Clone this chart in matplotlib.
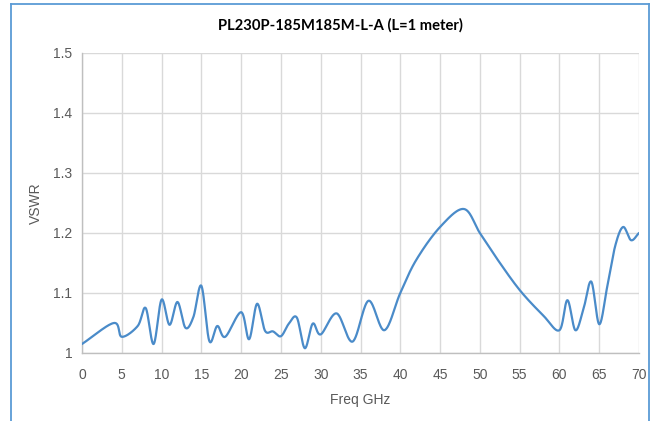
import numpy as np
import matplotlib
matplotlib.use("Agg")
import matplotlib.pyplot as plt
from matplotlib.lines import Line2D

# ---- data ----
freq_ghz = [0, 4, 5, 7, 8, 9, 10, 11, 12, 13, 14, 15, 16, 17, 18, 20, 21, 22, 23, 24,
            25, 26, 27, 28, 29, 30, 32, 34, 36, 38, 40, 42, 45, 48, 50, 52, 55, 58,
            60, 61, 62, 63, 64, 65, 66, 67, 68, 69, 70]
vswr = [1.015, 1.050, 1.027, 1.045, 1.075, 1.015, 1.089, 1.047, 1.085, 1.042, 1.060,
        1.112, 1.020, 1.045, 1.027, 1.068, 1.023, 1.082, 1.037, 1.036, 1.028, 1.049,
        1.059, 1.008, 1.049, 1.031, 1.066, 1.019, 1.087, 1.038, 1.100, 1.155, 1.210,
        1.240, 1.200, 1.160, 1.105, 1.062, 1.038, 1.088, 1.038, 1.072, 1.119, 1.048,
        1.110, 1.178, 1.210, 1.188, 1.200]
x_ticks = [0, 5, 10, 15, 20, 25, 30, 35, 40, 45, 50, 55, 60, 65, 70]
y_ticks = [1.0, 1.1, 1.2, 1.3, 1.4, 1.5]
y_tick_labels = ["1", "1.1", "1.2", "1.3", "1.4", "1.5"]
title = "PL230P-185M185M-L-A (L=1 meter)"
x_label = "Freq GHz"
y_label = "VSWR"


def smooth(x, y, n=30):
    """Catmull-Rom style smoothing (like Excel's smoothed line)."""
    x = np.asarray(x, float)
    y = np.asarray(y, float)
    xs, ys = [], []
    m = len(x)
    for i in range(m - 1):
        p0 = (x[i - 1], y[i - 1]) if i > 0 else (2 * x[0] - x[1], 2 * y[0] - y[1])
        p1 = (x[i], y[i])
        p2 = (x[i + 1], y[i + 1])
        p3 = (x[i + 2], y[i + 2]) if i + 2 < m else (2 * x[-1] - x[-2], 2 * y[-1] - y[-2])
        t = np.linspace(0, 1, n, endpoint=(i == m - 2))
        c1x = p1[0] + (p2[0] - p0[0]) / 6
        c1y = p1[1] + (p2[1] - p0[1]) / 6
        c2x = p2[0] - (p3[0] - p1[0]) / 6
        c2y = p2[1] - (p3[1] - p1[1]) / 6
        bx = (1 - t) ** 3 * p1[0] + 3 * (1 - t) ** 2 * t * c1x + 3 * (1 - t) * t ** 2 * c2x + t ** 3 * p2[0]
        by = (1 - t) ** 3 * p1[1] + 3 * (1 - t) ** 2 * t * c1y + 3 * (1 - t) * t ** 2 * c2y + t ** 3 * p2[1]
        xs.append(bx)
        ys.append(by)
    return np.concatenate(xs), np.concatenate(ys)


W, H = 657, 421
fig = plt.figure(figsize=(W / 100, H / 100), dpi=100)
fig.patch.set_facecolor("white")

ax = fig.add_axes([82 / W, 1 - 353 / H, (639 - 82) / W, (353 - 53) / H])
sx, sy = smooth(freq_ghz, vswr)
ax.plot(sx, sy, color="#4a8bc9", linewidth=1.6, solid_capstyle="round", zorder=3)

ax.set_xlim(0, 70)
ax.set_ylim(1.0, 1.5)
ax.set_xticks(x_ticks)
ax.set_xticklabels([str(t) for t in x_ticks])
ax.set_yticks(y_ticks)
ax.set_yticklabels(y_tick_labels)
ax.tick_params(length=0, labelsize=10, labelcolor="#595959")
ax.tick_params(axis="x", pad=11)
ax.tick_params(axis="y", pad=7)
for lab in ax.get_xticklabels() + ax.get_yticklabels():
    lab.set_family(["Liberation Sans", "DejaVu Sans"])
ax.grid(True, color="#d9d9d9", linewidth=1.0)
ax.set_axisbelow(True)
for side in ["top", "right"]:
    ax.spines[side].set_visible(False)
for side in ["left", "bottom"]:
    ax.spines[side].set_color("#bfbfbf")
    ax.spines[side].set_linewidth(1.0)

ax.set_xlabel(x_label, fontsize=10, color="#595959", family=["Liberation Sans", "DejaVu Sans"], labelpad=7.5)
ax.set_ylabel(y_label, fontsize=10, color="#595959", family=["Liberation Sans", "DejaVu Sans"], labelpad=7)

fig.text(340 / W, 1 - 25 / H, title, ha="center", va="center", fontsize=10.6,
         fontweight="bold", color="black", family=["Lato", "DejaVu Sans"])

# outer chart frame (left, top, right)
frame_c = "#5b9bd5"
fig.add_artist(Line2D([11 / W, 11 / W], [0, 1 - 4 / H], transform=fig.transFigure, color=frame_c, linewidth=1.3))
fig.add_artist(Line2D([11 / W, 649 / W], [1 - 4 / H, 1 - 4 / H], transform=fig.transFigure, color=frame_c, linewidth=1.3))
fig.add_artist(Line2D([649 / W, 649 / W], [0, 1 - 4 / H], transform=fig.transFigure, color=frame_c, linewidth=1.3))

fig.savefig("out.png", dpi=100)
